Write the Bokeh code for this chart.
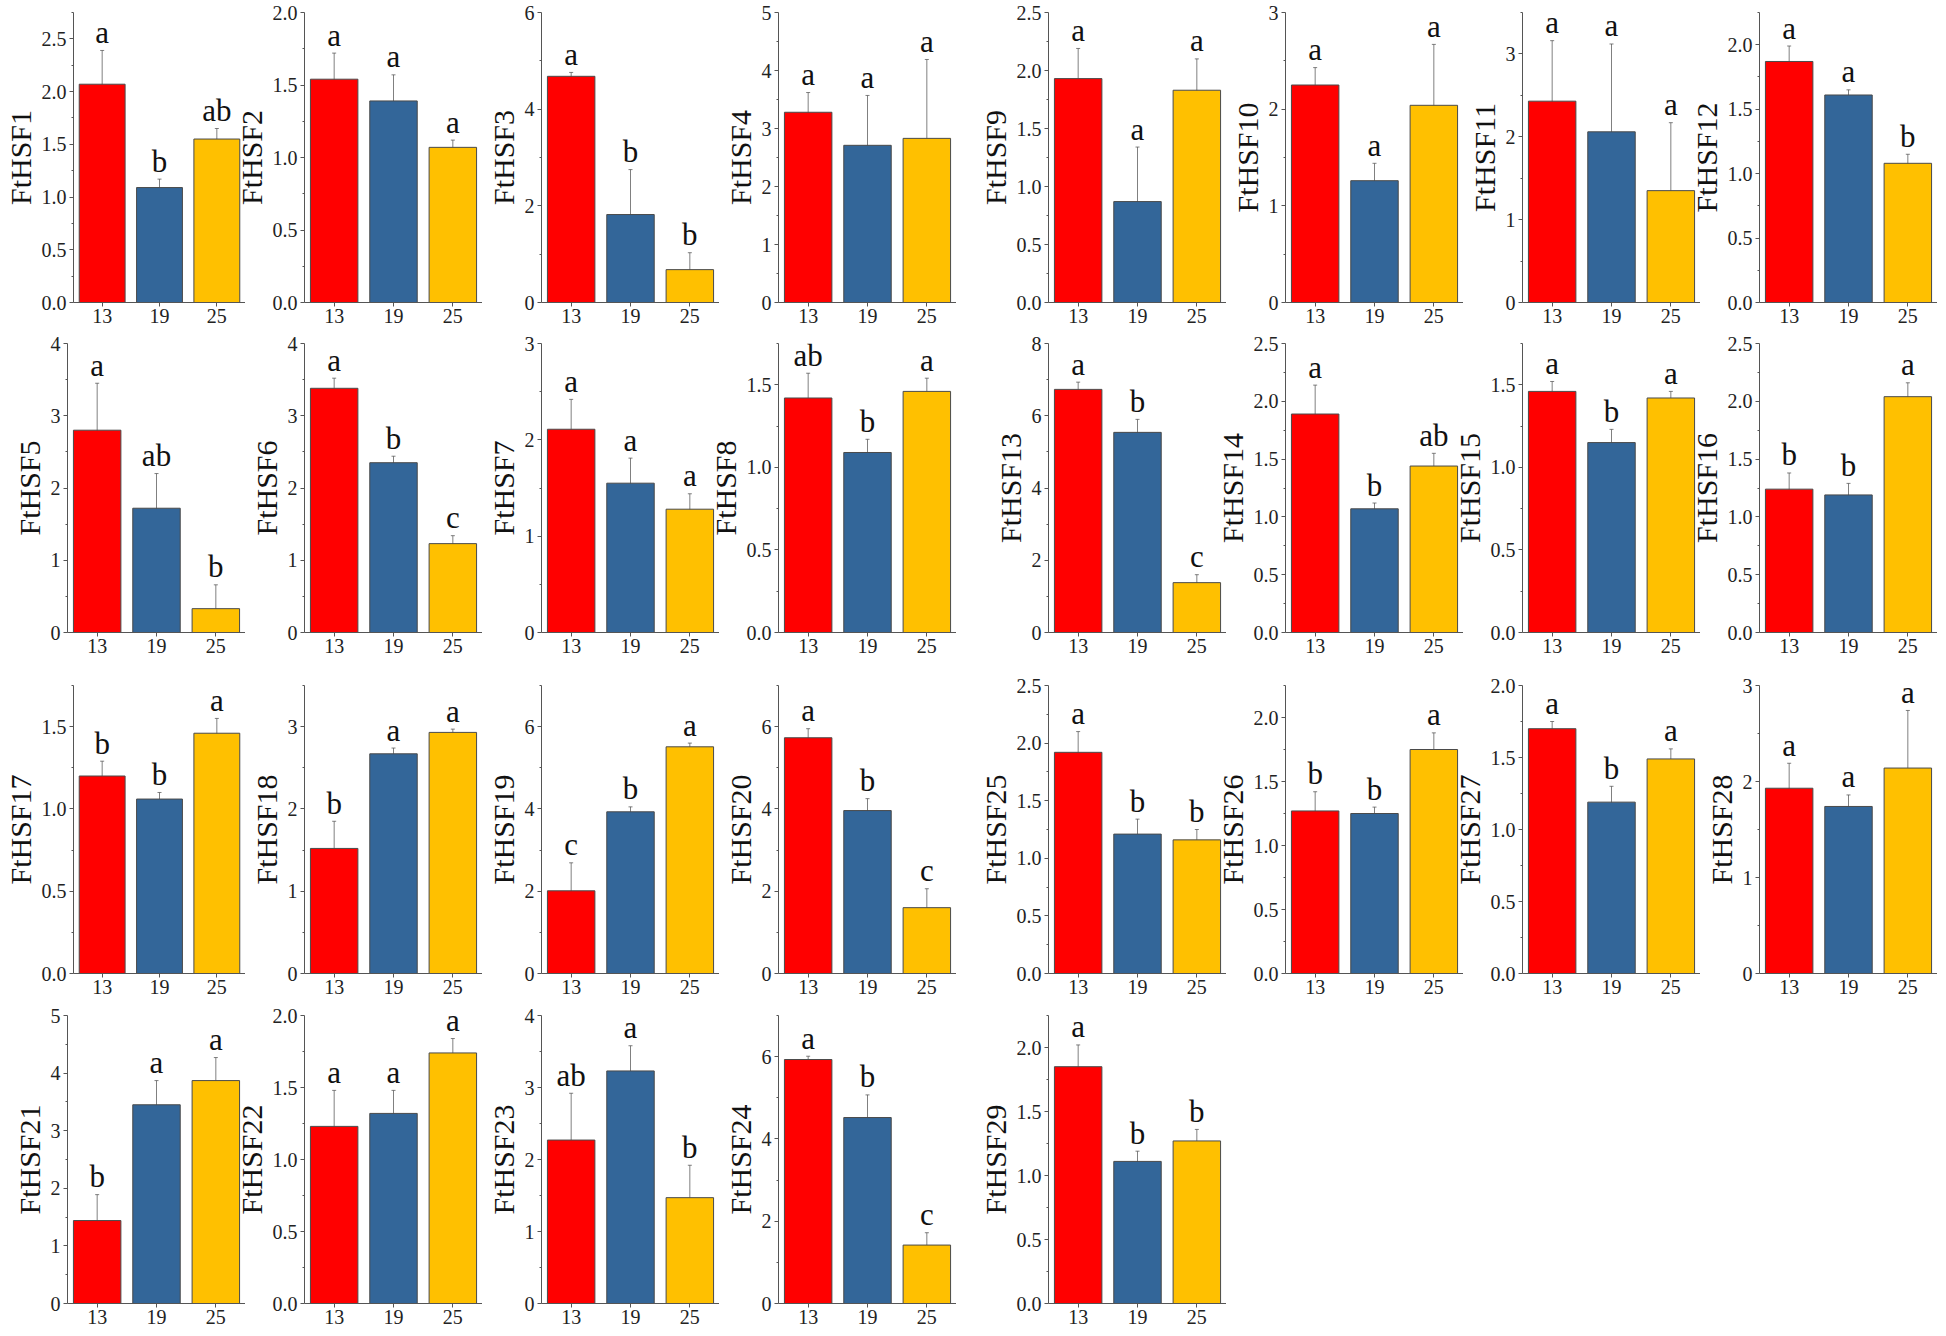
import numpy as np
from bokeh.plotting import figure
from bokeh.layouts import column, row
from bokeh.models import (ColumnDataSource, Whisker, TeeHead, FactorRange, Range1d,
                          FixedTicker, PrintfTickFormatter, Spacer)
from bokeh.core.properties import value
from bokeh.embed import file_html
from bokeh.resources import INLINE

temps = ["13", "19", "25"]
bar_colors = ["#FF0000", "#336699", "#FFC000"]

genes = ["FtHSF1", "FtHSF2", "FtHSF3", "FtHSF4", "FtHSF9", "FtHSF10", "FtHSF11", "FtHSF12",
         "FtHSF5", "FtHSF6", "FtHSF7", "FtHSF8", "FtHSF13", "FtHSF14", "FtHSF15", "FtHSF16",
         "FtHSF17", "FtHSF18", "FtHSF19", "FtHSF20", "FtHSF25", "FtHSF26", "FtHSF27", "FtHSF28",
         "FtHSF21", "FtHSF22", "FtHSF23", "FtHSF24", "FtHSF29"]

mean_13 = [2.07, 1.54, 4.68, 3.28, 1.93, 2.25, 2.43, 1.87,
           2.80, 3.38, 2.11, 1.42, 6.73, 1.89, 1.46, 1.24,
           1.20, 1.52, 2.01, 5.73, 1.92, 1.27, 1.70, 1.93,
           1.44, 1.23, 2.27, 5.93, 1.85]
mean_19 = [1.09, 1.39, 1.82, 2.71, 0.87, 1.26, 2.06, 1.61,
           1.72, 2.35, 1.55, 1.09, 5.54, 1.07, 1.15, 1.19,
           1.06, 2.67, 3.93, 3.96, 1.21, 1.25, 1.19, 1.74,
           3.45, 1.32, 3.23, 4.52, 1.11]
mean_25 = [1.55, 1.07, 0.68, 2.83, 1.83, 2.04, 1.35, 1.08,
           0.33, 1.23, 1.28, 1.46, 1.38, 1.44, 1.42, 2.04,
           1.46, 2.93, 5.51, 1.60, 1.16, 1.75, 1.49, 2.14,
           3.87, 1.74, 1.47, 1.42, 1.27]

sd_13 = [0.32, 0.18, 0.08, 0.34, 0.26, 0.18, 0.73, 0.12,
         0.65, 0.14, 0.31, 0.15, 0.20, 0.25, 0.06, 0.14,
         0.09, 0.33, 0.68, 0.22, 0.18, 0.15, 0.05, 0.26,
         0.45, 0.25, 0.65, 0.08, 0.17]
sd_19 = [0.08, 0.18, 0.93, 0.86, 0.47, 0.18, 1.06, 0.04,
         0.48, 0.09, 0.26, 0.08, 0.36, 0.05, 0.08, 0.10,
         0.04, 0.07, 0.12, 0.29, 0.13, 0.05, 0.11, 0.12,
         0.42, 0.16, 0.35, 0.55, 0.08]
sd_25 = [0.10, 0.05, 0.35, 1.36, 0.27, 0.63, 0.82, 0.07,
         0.33, 0.11, 0.16, 0.08, 0.22, 0.11, 0.04, 0.12,
         0.09, 0.04, 0.09, 0.46, 0.09, 0.13, 0.07, 0.60,
         0.40, 0.10, 0.45, 0.30, 0.09]

letters_13 = ["a", "a", "a", "a", "a", "a", "a", "a",
              "a", "a", "a", "ab", "a", "a", "a", "b",
              "b", "b", "c", "a", "a", "b", "a", "a",
              "b", "a", "ab", "a", "a"]
letters_19 = ["b", "a", "b", "a", "a", "a", "a", "a",
              "ab", "b", "a", "b", "b", "b", "b", "b",
              "b", "a", "b", "b", "b", "b", "b", "a",
              "a", "a", "a", "b", "b"]
letters_25 = ["ab", "a", "b", "a", "a", "a", "a", "b",
              "b", "c", "a", "a", "c", "ab", "a", "a",
              "a", "a", "a", "c", "b", "a", "a", "a",
              "a", "a", "b", "c", "b"]

y_max = [2.75, 2.0, 6, 5, 2.5, 3, 3.5, 2.25,
         4, 4, 3, 1.75, 8, 2.5, 1.75, 2.5,
         1.75, 3.5, 7, 7, 2.5, 2.25, 2.0, 3,
         5, 2.0, 4, 7, 2.25]
y_step = [0.5, 0.5, 2, 1, 0.5, 1, 1, 0.5,
          1, 1, 1, 0.5, 2, 0.5, 0.5, 0.5,
          0.5, 1, 2, 2, 0.5, 0.5, 0.5, 1,
          1, 0.5, 1, 2, 0.5]

panel_rows = [list(range(0, 8)), list(range(8, 16)), list(range(16, 24)), list(range(24, 29))]
row_tops = [12, 10, 10, 10]
row_frames = [290, 289, 288, 288]
row_bottoms = [31, 43, 32, 30]

SERIF = "Liberation Serif"
PITCH = 237      # horizontal pitch of the panels
BORDER = 59      # space left of each frame inside the pitch
EXTRA = 16       # extra room borrowed from the panel on the left, for the y label


def make_panel(i, top, frame_h, bottom, first):
    ymax = y_max[i]
    step = y_step[i]
    if first:
        width, left, margin = PITCH + 8, BORDER + 8, (0, 0, 0, 0)
    else:
        width, left, margin = PITCH + EXTRA, BORDER + EXTRA, (0, 0, 0, -EXTRA)
    p = figure(width=width, height=top + frame_h + bottom,
               x_range=FactorRange(factors=temps, range_padding=0),
               y_range=Range1d(0, ymax),
               output_backend="svg", toolbar_location=None,
               min_border_left=left, min_border_right=0,
               min_border_top=top, min_border_bottom=bottom,
               margin=margin)
    p.outline_line_color = None
    p.xgrid.visible = False
    p.ygrid.visible = False
    p.background_fill_color = "white"
    p.border_fill_color = None
    p.border_fill_alpha = 0

    means = [mean_13[i], mean_19[i], mean_25[i]]
    sds = [sd_13[i], sd_19[i], sd_25[i]]
    lets = [letters_13[i], letters_19[i], letters_25[i]]
    src = ColumnDataSource(dict(
        x=temps, top=means,
        upper=[m + s for m, s in zip(means, sds)],
        lower=[m - s for m, s in zip(means, sds)],
        letter=lets, color=bar_colors))

    p.vbar(x="x", top="top", width=0.8, source=src, fill_color="color",
           line_color="#4a4a4a", line_width=1)

    w = Whisker(source=src, base="x", upper="upper", lower="lower",
                line_color="#555555", line_alpha=0.75, line_width=1,
                upper_head=TeeHead(size=4, line_color="#555555", line_alpha=0.75, line_width=1),
                lower_head=TeeHead(size=4, line_color="#555555", line_alpha=0.75, line_width=1))
    p.add_layout(w)

    p.text(x="x", y="upper", text="letter", source=src,
           text_font=value(SERIF), text_font_size="31px",
           text_align="center", text_baseline="alphabetic",
           y_offset=-18, text_color="#111111")

    major = list(np.arange(0, ymax + 1e-9, step))
    minor = list(np.arange(step / 2, ymax + 1e-9, step))
    p.yaxis.ticker = FixedTicker(ticks=major, minor_ticks=minor)
    p.yaxis.formatter = PrintfTickFormatter(format="%.1f" if step < 1 else "%d")
    p.yaxis.axis_label = genes[i]
    p.yaxis.axis_label_text_font = SERIF
    p.yaxis.axis_label_text_font_size = "30px"
    p.yaxis.axis_label_text_font_style = "normal"
    p.yaxis.axis_label_text_color = "#111111"
    p.yaxis.axis_label_standoff = 2

    for ax in (p.xaxis, p.yaxis):
        ax.axis_line_color = "#555555"
        ax.axis_line_width = 1
        ax.major_tick_line_color = "#555555"
        ax.minor_tick_line_color = "#555555"
        ax.major_tick_out = 4
        ax.major_tick_in = 0
        ax.minor_tick_out = 2
        ax.minor_tick_in = 0
        ax.major_label_text_font = SERIF
        ax.major_label_text_font_size = "20px"
        ax.major_label_text_color = "#222222"
    p.yaxis.major_label_standoff = 3
    p.xaxis.major_label_standoff = 2
    return p


rows = []
for r, idxs in enumerate(panel_rows):
    h = row_tops[r] + row_frames[r] + row_bottoms[r]
    figs = [make_panel(i, row_tops[r], row_frames[r], row_bottoms[r], k == 0)
            for k, i in enumerate(idxs)]
    children = figs[:4] + [Spacer(width=33, height=h)] + figs[4:]
    rows.append(row(children, spacing=0))

layout = column(rows, spacing=0)

open("out.html", "w").write(file_html(layout, INLINE))
